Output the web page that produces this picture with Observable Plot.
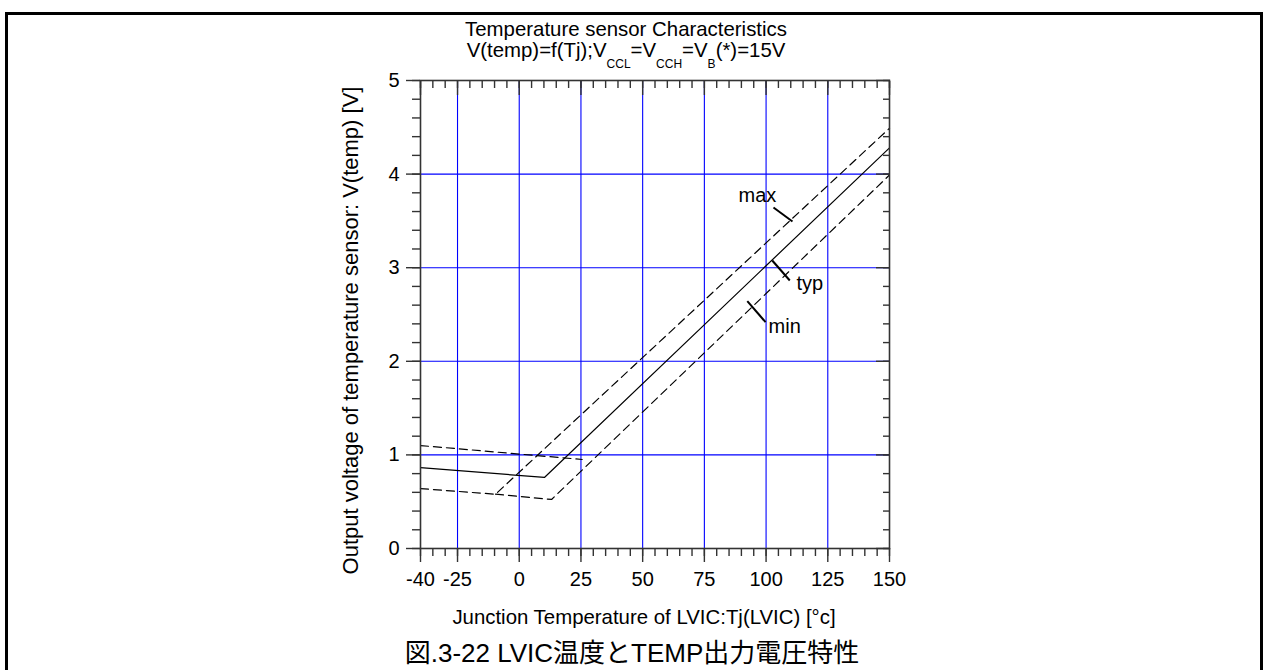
<!DOCTYPE html>
<html>
<head>
<meta charset="utf-8">
<script src="https://cdn.jsdelivr.net/npm/d3@7"></script>
<script src="https://cdn.jsdelivr.net/npm/@observablehq/plot@0.6"></script>
<style>
html, body { margin: 0; padding: 0; background: #fff; }
#wrap { position: relative; width: 1267px; height: 670px; overflow: hidden; font-family: "Liberation Sans", Arial, sans-serif; color: #000; }
#border { position: absolute; left: 5px; top: 12px; width: 1252px; height: 700px; border: 3px solid #000; border-bottom: none; }
#chart { position: absolute; left: 0; top: 0; }
#title { position: absolute; left: 0; top: 19px; width: 1252px; text-align: center; font-size: 20.4px; line-height: 21.3px; }
#title sub { font-size: 12px; vertical-align: -11px; line-height: 0; }
#caption { position: absolute; left: 0; top: 638px; width: 1264px; text-align: center; font-size: 26px; line-height: 30px; font-family: "Liberation Sans", "Noto Sans CJK JP", sans-serif; }
</style>
</head>
<body>
<div id="wrap">
  <div id="chart"></div>
  <div id="border"></div>
  <div id="title">Temperature sensor Characteristics<br>V(temp)=f(Tj);V<sub>CCL</sub>=V<sub>CCH</sub>=V<sub>B</sub>(*)=15V</div>
  <div id="caption">図.3-22 LVIC温度とTEMP出力電圧特性</div>
</div>
<script>
// ---- data ----
const typT = [-40, 10.2, 150];
const typV = [0.865, 0.759, 4.28];

const maxT = [-40, -9.6, 150];
const maxV = [0.64, 0.58, 4.49];

const minT = [-9.6, 13.1, 150];
const minV = [0.58, 0.524, 3.99];

const upperT = [-40, 25.5];
const upperV = [1.10, 0.951];

const labelNames = ["max", "typ", "min"];
const labelT = [88.85, 112.35, 101.0];
const labelV = [3.697, 2.767, 2.30];

const leaderT1 = [103.0, 102.5, 92.4];
const leaderV1 = [3.643, 3.077, 2.642];
const leaderT2 = [110.7, 109.6, 99.8];
const leaderV2 = [3.494, 2.863, 2.418];

const xMajor = [-40, -25, 0, 25, 50, 75, 100, 125, 150];
const xTickLabels = ["-40", "-25", "0", "25", "50", "75", "100", "125", "150"];
const xGrid = [-25, 0, 25, 50, 75, 100, 125];
const xMinor = d3.range(-40, 151, 5);

const yMajor = [0, 1, 2, 3, 4, 5];
const yTickLabels = ["0", "1", "2", "3", "4", "5"];
const yGrid = [1, 2, 3, 4];
const yMinor = d3.range(0, 26).map(i => i / 5);

const xLabel = "Junction Temperature of LVIC:Tj(LVIC) [°c]";
const yLabel = "Output voltage of temperature sensor: V(temp) [V]";

// ---- build ----
const toRows = (T, V) => T.map((t, i) => ({T: t, V: V[i]}));
const labels = labelNames.map((n, i) => ({name: n, T: labelT[i], V: labelV[i]}));
const leaders = labelNames.map((n, i) => ({x1: leaderT1[i], y1: leaderV1[i], x2: leaderT2[i], y2: leaderV2[i]}));

const axisColor = "#333";
const blank = () => "";

const chart = Plot.plot({
  width: 1267,
  height: 670,
  marginLeft: 420,
  marginRight: 378,
  marginTop: 80,
  marginBottom: 122,
  style: {fontFamily: "Liberation Sans, Arial, sans-serif", fontSize: "20px", color: "#000", background: "transparent"},
  x: {domain: [-40, 150], label: null},
  y: {domain: [0, 5], label: null},
  marks: [
    Plot.gridX(xGrid, {stroke: "#0000ff", strokeOpacity: 1, strokeWidth: 1.1}),
    Plot.gridY(yGrid, {stroke: "#0000ff", strokeOpacity: 1, strokeWidth: 1.1}),
    Plot.line(toRows(upperT, upperV), {x: "T", y: "V", stroke: "#000", strokeWidth: 1.2, strokeDasharray: "8,5"}),
    Plot.line(toRows(maxT, maxV), {x: "T", y: "V", stroke: "#000", strokeWidth: 1.2, strokeDasharray: "8,5"}),
    Plot.line(toRows(minT, minV), {x: "T", y: "V", stroke: "#000", strokeWidth: 1.2, strokeDasharray: "8,5"}),
    Plot.line(toRows(typT, typV), {x: "T", y: "V", stroke: "#000", strokeWidth: 1.2}),
    Plot.frame({stroke: axisColor, strokeWidth: 1.6}),
    // bottom axis (outward ticks)
    Plot.axisX(xMinor, {anchor: "bottom", tickSize: 8, tickFormat: blank, stroke: axisColor, strokeWidth: 1.4, label: null}),
    Plot.axisX(xMajor, {anchor: "bottom", tickSize: 14, tickPadding: 9, fontSize: 20, stroke: axisColor, strokeWidth: 1.4, fill: "#000", label: null,
      tickFormat: d => xTickLabels[xMajor.indexOf(d)]}),
    // top axis (inward ticks)
    Plot.axisX(xMinor, {anchor: "top", tickSize: -7, tickFormat: blank, stroke: axisColor, strokeWidth: 1.4, label: null}),
    Plot.axisX(xMajor, {anchor: "top", tickSize: -14, tickFormat: blank, stroke: axisColor, strokeWidth: 1.4, label: null}),
    // left axis (outward ticks)
    Plot.axisY(yMinor, {anchor: "left", tickSize: 8, tickFormat: blank, stroke: axisColor, strokeWidth: 1.4, label: null}),
    Plot.axisY(yMajor, {anchor: "left", tickSize: 14, tickPadding: 7, fontSize: 20, stroke: axisColor, strokeWidth: 1.4, fill: "#000", label: null,
      tickFormat: d => yTickLabels[yMajor.indexOf(d)]}),
    // right axis (inward ticks)
    Plot.axisY(yMinor, {anchor: "right", tickSize: -7, tickFormat: blank, stroke: axisColor, strokeWidth: 1.4, label: null}),
    Plot.axisY(yMajor, {anchor: "right", tickSize: -14, tickFormat: blank, stroke: axisColor, strokeWidth: 1.4, label: null}),
    // axis titles
    Plot.text([xLabel], {frameAnchor: "bottom", text: d => d, textAnchor: "middle", dx: -11, dy: 75, lineAnchor: "bottom", fontSize: 20.4, fill: "#000"}),
    Plot.text([yLabel], {frameAnchor: "left", text: d => d, textAnchor: "middle", rotate: -90, dx: -63, dy: 16, lineAnchor: "bottom", fontSize: 22, fill: "#000"}),
    // curve labels and leaders
    Plot.link(leaders, {x1: "x1", y1: "y1", x2: "x2", y2: "y2", stroke: "#000", strokeWidth: 2}),
    Plot.text(labels, {x: "T", y: "V", text: "name", textAnchor: "start", lineAnchor: "bottom", fontSize: 20, fill: "#000"})
  ]
});
document.getElementById("chart").appendChild(chart);
</script>
</body>
</html>
